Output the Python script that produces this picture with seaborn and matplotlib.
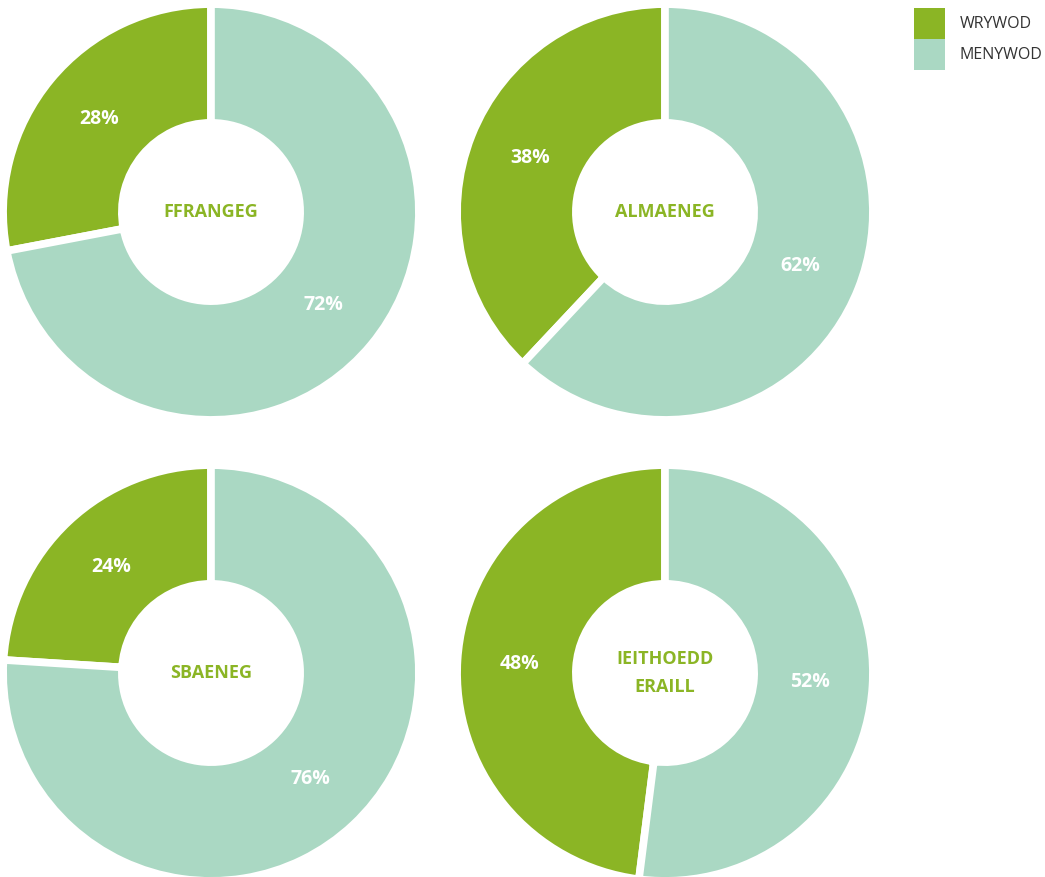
import matplotlib
matplotlib.use("Agg")
import matplotlib.pyplot as plt
from matplotlib.patches import Patch
import seaborn as sns

# data
languages = ['FFRANGEG', 'ALMAENEG', 'SBAENEG', 'IEITHOEDD\nERAILL']
wrywod = [28, 38, 24, 48]
menywod = [72, 62, 76, 52]
series_names = ['WRYWOD', 'MENYWOD']

green = '#8BB525'
mint = '#AAD8C3'

sns.set_theme(style="white")
plt.rcParams['font.family'] = ['Open Sans', 'DejaVu Sans']

W, H = 1045, 877
fig = plt.figure(figsize=(W / 100, H / 100), dpi=100)

# pie centres in pixels, outer radius 204
centres = [(211, 212), (665, 212), (211, 673), (665, 673)]
R = 204

for (cx, cy), lang, w, m in zip(centres, languages, wrywod, menywod):
    ax = fig.add_axes([(cx - R) / W, (H - cy - R) / H, 2 * R / W, 2 * R / H])
    wedges, texts, autotexts = ax.pie(
        [w, m], colors=[green, mint], startangle=90, counterclock=True,
        radius=1.019, autopct='%d%%', pctdistance=0.70,
        wedgeprops=dict(width=0.582, edgecolor='white', linewidth=5.5),
        textprops=dict(color='white', fontsize=14, fontweight='bold'))
    ax.text(0, 0, lang, ha='center', va='center', color=green,
            fontsize=13, fontweight='bold', linespacing=1.65)
    ax.set_xlim(-1, 1)
    ax.set_ylim(-1, 1)
    ax.set_aspect('equal')
    ax.axis('off')

handles = [Patch(facecolor=green, edgecolor='none'), Patch(facecolor=mint, edgecolor='none')]
fig.legend(handles, series_names, loc='upper left', bbox_to_anchor=(914 / W, 1 - 8 / H),
           frameon=False, fontsize=11.5, handlelength=1.95, handleheight=2.6,
           labelspacing=0, handletextpad=0.9, borderpad=0, borderaxespad=0,
           labelcolor='#333333')

fig.savefig('out.png', dpi=100, facecolor='white')
